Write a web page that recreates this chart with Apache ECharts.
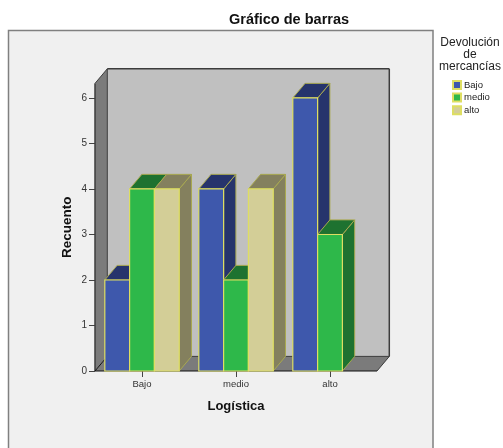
<!DOCTYPE html>
<html>
<head>
<meta charset="utf-8">
<style>
  html, body { margin: 0; padding: 0; background: #fff; }
  #chart { width: 503px; height: 448px; }
</style>
<script src="https://cdn.jsdelivr.net/npm/echarts@6/dist/echarts.min.js"></script>
</head>
<body>
<div id="chart"></div>
<script>
const categories = ['Bajo', 'medio', 'alto']
const yTicks = [0, 1, 2, 3, 4, 5, 6]
const bajo = [2, 4, 6]
const medio = [4, 2, 3]
const alto = [4, 4, null]

const FONT = '"Liberation Sans", Arial, sans-serif'
const DX = 12.3 // depth of the fake 3d
const DY = -14.6
const BAR_W = 24.8
const EDGE = '#dede62'

const poly = (points, fill, stroke, width) => ({
  type: 'polygon',
  shape: { points },
  style: { fill, stroke: stroke || 'none', lineWidth: width || 1 }
})

const line = (x1, y1, x2, y2, color, width) => ({
  type: 'line',
  shape: { x1, y1, x2, y2 },
  style: { stroke: color, lineWidth: width }
})

// back wall, left wall and floor, taken from the grid rectangle
const renderWalls = (params) => {
  const { x, y, width, height } = params.coordSys
  const r = x + width
  const b = y + height
  const dark = '#3c3c3c'
  return {
    type: 'group',
    children: [
      poly([[x + DX, y + DY], [r + DX, y + DY], [r + DX, b + DY], [x + DX, b + DY]], '#c0c0c0'),
      poly([[x, y], [x + DX, y + DY], [x + DX, b + DY], [x, b]], '#7b7b7b'),
      poly([[x, b], [x + DX, b + DY], [r + DX, b + DY], [r, b]], '#7b7b7b'),
      line(x + DX, y + DY, r + DX, y + DY, dark, 1.5),
      line(r + DX, y + DY, r + DX, b + DY, dark, 1.5),
      line(x + DX, y + DY, x + DX, b + DY, dark, 1),
      line(x + DX, b + DY, r + DX, b + DY, dark, 1),
      line(x, y, x + DX, y + DY, dark, 1),
      line(x, y, x, b, dark, 1.5),
      line(x, b, x + DX, b + DY, '#111', 1),
      line(x, b, r, b, '#111', 1.2),
      line(r, b, r + DX, b + DY, dark, 1)
    ]
  }
}

const makeBars = (slot, front, top, side) => (params, api) => {
  const v = api.value(1)
  if (v == null || isNaN(v)) return null
  const p = api.coord([api.value(0), v])
  const base = api.coord([api.value(0), 0])
  const l = p[0] + (slot - 2.5) * BAR_W
  const r = l + BAR_W
  return {
    type: 'group',
    children: [
      poly([[r, p[1]], [r + DX, p[1] + DY], [r + DX, base[1] + DY], [r, base[1]]], side, '#a8a850'),
      poly([[l, p[1]], [l + DX, p[1] + DY], [r + DX, p[1] + DY], [r, p[1]]], top, '#a8a850'),
      poly([[l, p[1]], [r, p[1]], [r, base[1]], [l, base[1]]], front, EDGE, 1.2)
    ]
  }
}

const barSeries = (name, values, slot, front, top, side) => ({
  name,
  type: 'custom',
  clip: false,
  silent: true,
  renderItem: makeBars(slot, front, top, side),
  encode: { x: 0, y: 1 },
  itemStyle: { color: front, borderColor: EDGE, borderWidth: 1 },
  data: values.map((v, i) => [i, v])
})

const myChart = echarts.init(document.getElementById('chart'), null, { renderer: 'canvas' })
myChart.setOption({
  animation: false,
  backgroundColor: '#fff',
  title: [
    {
      text: 'Gráfico de barras',
      left: 284,
      top: 7,
      textAlign: 'center',
      textStyle: { fontFamily: FONT, fontSize: 14.5, fontWeight: 'bold', color: '#111' }
    },
    {
      text: 'Devolución\nde\nmercancías',
      left: 465,
      top: 32,
      textAlign: 'center',
      textStyle: { fontFamily: FONT, fontSize: 12, fontWeight: 'normal', color: '#222', lineHeight: 12 }
    }
  ],
  legend: {
    data: ['Bajo', 'medio', 'alto'],
    orient: 'vertical',
    left: 452,
    top: 80,
    padding: 0,
    itemWidth: 8,
    itemHeight: 8,
    itemGap: 2.6,
    icon: 'rect',
    selectedMode: false,
    textStyle: { fontFamily: FONT, fontSize: 9.5, color: '#222', padding: [0, 0, 0, -2] }
  },
  graphic: [
    {
      type: 'rect',
      silent: true,
      shape: { x: 8.5, y: 30.5, width: 424.5, height: 430 },
      style: { fill: '#f0f0f0', stroke: '#808080', lineWidth: 1.5 }
    }
  ],
  grid: { left: 95, top: 83.4, width: 282, height: 287.6 },
  xAxis: {
    type: 'category',
    data: categories,
    name: 'Logística',
    nameLocation: 'middle',
    nameGap: 29,
    nameTextStyle: { fontFamily: FONT, fontSize: 13, fontWeight: 'bold', color: '#111' },
    axisLine: { show: false },
    axisTick: { show: true, alignWithLabel: true, length: 6, lineStyle: { color: '#444' } },
    axisLabel: { fontFamily: FONT, fontSize: 9.5, color: '#333', margin: 8 },
    splitLine: { show: false }
  },
  yAxis: {
    type: 'value',
    min: 0,
    max: 6.32,
    name: 'Recuento',
    nameLocation: 'middle',
    nameGap: 21,
    nameMoveOverlap: false,
    nameTextStyle: { fontFamily: FONT, fontSize: 13.5, fontWeight: 'bold', color: '#111' },
    axisLine: { show: false },
    axisTick: { show: true, length: 6, customValues: yTicks, lineStyle: { color: '#444' } },
    axisLabel: { fontFamily: FONT, fontSize: 10, color: '#333', margin: 8, customValues: yTicks },
    splitLine: { show: false }
  },
  series: [
    {
      type: 'custom',
      silent: true,
      clip: false,
      renderItem: renderWalls,
      encode: { x: 0, y: 1 },
      data: [[0, 0]]
    },
    barSeries('Bajo', bajo, 1, '#3e58ac', '#26346c', '#26346c'),
    barSeries('medio', medio, 2, '#2eb84a', '#1e7230', '#1e7230'),
    barSeries('alto', alto, 3, '#d3ce97', '#84805e', '#84805e')
  ]
})
</script>
</body>
</html>
